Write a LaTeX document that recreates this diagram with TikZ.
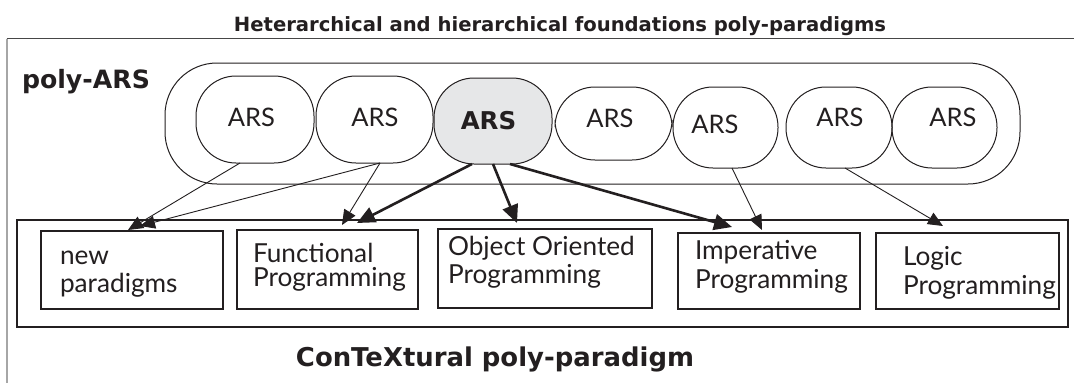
\documentclass[tikz,border=0pt]{standalone}
\usepackage{fontspec}
\setmainfont{Lato}
\newfontfamily\boldfam{DejaVu Sans}
\usetikzlibrary{arrows.meta}
\definecolor{ink}{HTML}{231F20}
\definecolor{arsgray}{HTML}{E6E7E8}
\begin{document}
\begin{tikzpicture}[x=1pt,y=-1pt,
  every node/.style={inner sep=0pt, outer sep=0pt},
  arsbox/.style={draw=ink, line width=1pt, rounded corners=40pt, rectangle},
  arstext/.style={font=\fontsize{25.5}{25}\selectfont, text=ink},
  parbox/.style={draw=ink, line width=1.1pt, rectangle},
  partext/.style={font=\fontsize{26.2}{25}\selectfont, text=ink, anchor=base west},
  thin/.style={draw=ink, line width=0.9pt, -{Triangle[length=15pt,width=13pt]}},
  thick/.style={draw=ink, line width=2.6pt, -{Triangle[length=18pt,width=16pt]}}]
\useasboundingbox (0,0) rectangle (1074,383);
\fill[white] (0,0) rectangle (1074,383);
% outer frame
\draw[gray!55!black, line width=1.3pt] (6.5,38.5) -- (1074,38.5);
\draw[gray!70, line width=2pt] (6.5,38.5) -- (6.5,383);
% titles
\node[anchor=base, font=\boldfam\bfseries\fontsize{19.6}{20}\selectfont, text=ink] (title) at (560,31) {Heterarchical and hierarchical foundations poly-paradigms};
\node[anchor=base west, font=\boldfam\bfseries\fontsize{25.2}{26}\selectfont, text=ink] (polyars) at (22,88) {poly-ARS};
\node[anchor=base, font=\boldfam\bfseries\fontsize{25.9}{27}\selectfont, text=ink] (context) at (495,366) {ConTeXtural poly-paradigm};
% poly-ARS container
\node[draw=ink, line width=1pt, rounded corners=52pt, minimum width=855pt, minimum height=121pt] (cont) at (592.5,123.5) {};
% ARS nodes
\node[arsbox, minimum width=118pt, minimum height=87pt] (a1) at (255,119.5) {};
\node[arsbox, minimum width=117pt, minimum height=87pt] (a2) at (374.5,119.5) {};
\node[arsbox, fill=arsgray, minimum width=118pt, minimum height=86pt] (a3) at (493,121) {};
\node[arsbox, minimum width=117pt, minimum height=73pt] (a4) at (613.5,123.5) {};
\node[arsbox, minimum width=105pt, minimum height=81pt] (a5) at (725.5,127.5) {};
\node[arsbox, minimum width=106pt, minimum height=81pt] (a6) at (839,127.5) {};
\node[arsbox, minimum width=105pt, minimum height=81pt] (a7) at (944.5,127.5) {};
\node[arstext] (t1) at (251.5,117.5) {ARS};
\node[arstext] (t2) at (375,117.5) {ARS};
\node[font=\boldfam\bfseries\fontsize{24.5}{24}\selectfont, text=ink] (t3) at (488.5,120.5) {ARS};
\node[arstext] (t4) at (610,118.5) {ARS};
\node[arstext] (t5) at (715,124.5) {ARS};
\node[arstext] (t6) at (840,117) {ARS};
\node[arstext] (t7) at (953,117) {ARS};
% bottom container
\node[draw=ink, line width=2.8pt, minimum width=1051pt, minimum height=107pt] (ctx) at (542.5,273.5) {};
% paradigm boxes
\node[parbox, minimum width=182pt, minimum height=78pt] (np) at (132,270) {};
\node[parbox, minimum width=181pt, minimum height=79pt] (fp) at (327.5,269.5) {};
\node[parbox, minimum width=214pt, minimum height=79pt] (oo) at (545,268.5) {};
\node[parbox, minimum width=182pt, minimum height=76pt] (ip) at (769,271) {};
\node[parbox, minimum width=183pt, minimum height=76pt] (lp) at (967.5,271) {};
\node[partext] (np1) at (60,264) {new};
\node[partext] (np2) at (60,292) {paradigms};
\node[partext] (fp1) at (253,262) {Functional};
\node[partext] (fp2) at (253,286) {Programming};
\node[partext] (oo1) at (448,255) {Object Oriented};
\node[partext] (oo2) at (448,283) {Programming};
\node[partext] (ip1) at (695,259) {Imperative};
\node[partext] (ip2) at (695,288) {Programming};
\node[partext] (lp1) at (903,265.5) {Logic};
\node[partext] (lp2) at (903,294) {Programming};
% connectors
\draw[thin] ([xshift=-15pt]a1.south) -- ([xshift=-4pt,yshift=1pt]np.north);
\draw[thin] ([xshift=5.5pt]a2.south) -- ([xshift=8pt,yshift=5pt]np.north);
\draw[thin] ([xshift=5.5pt]a2.south) -- ([xshift=14.5pt,yshift=5pt]fp.north);
\draw[thick] ([xshift=-21pt]a3.south) -- ([xshift=29.5pt,yshift=7pt]fp.north);
\draw[thick] ([xshift=0pt]a3.south) -- ([xshift=-28pt,yshift=6pt]oo.north);
\draw[thick] ([xshift=17pt]a3.south) -- ([xshift=-37pt,yshift=6pt]ip.north);
\draw[thin] ([xshift=6.5pt]a5.south) -- ([xshift=-7pt,yshift=3pt]ip.north);
\draw[thin] ([xshift=6pt]a6.south) -- ([xshift=-24.5pt,yshift=7pt]lp.north);
\end{tikzpicture}
\end{document}
